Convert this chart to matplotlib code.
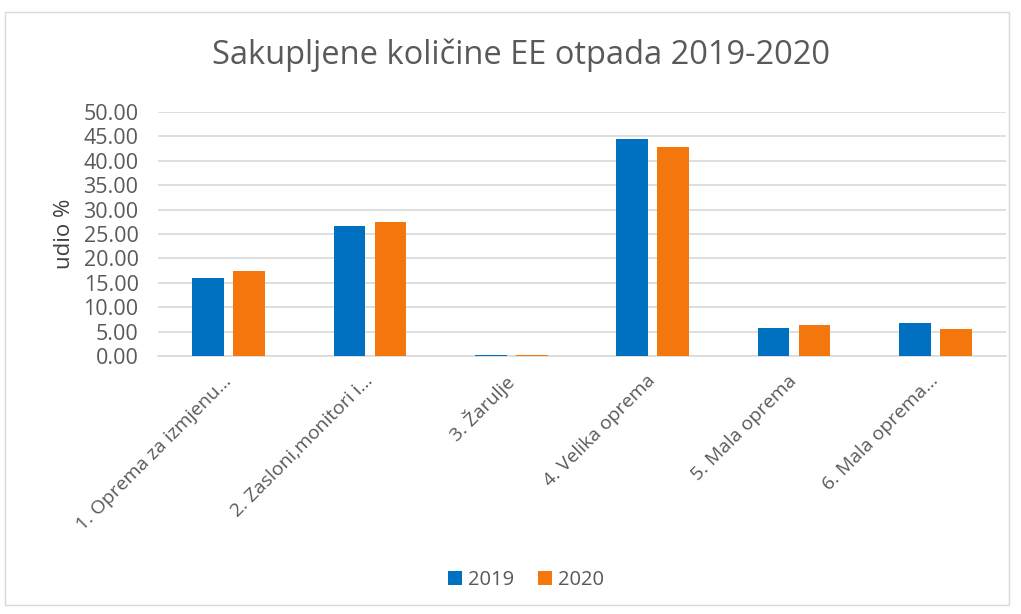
import matplotlib
matplotlib.use("Agg")
import matplotlib.pyplot as plt
import matplotlib.transforms as mtransforms
import numpy as np
from matplotlib.patches import Rectangle

categories = ["1. Oprema za izmjenu…", "2. Zasloni,monitori i…", "3. Žarulje",
              "4. Velika oprema", "5. Mala oprema", "6. Mala oprema…"]
series_2019 = [15.9, 26.6, 0.3, 44.5, 5.75, 6.8]
series_2020 = [17.5, 27.4, 0.3, 42.8, 6.4, 5.55]
series_names = ["2019", "2020"]
yticks = [0, 5, 10, 15, 20, 25, 30, 35, 40, 45, 50]

plt.rcParams['font.family'] = ['Open Sans', 'DejaVu Sans']
W, H = 1021, 614
fig = plt.figure(figsize=(W/100, H/100), dpi=100)
fig.patches.append(Rectangle((5/W, 1-605/H), 1004/W, 593/H, transform=fig.transFigure,
                             fill=False, edgecolor='#d9d9d9', linewidth=1))

ax = fig.add_axes([158/W, 1-356/H, 848/W, 244/H])
x = np.arange(len(categories))
bw = 0.226
gap = 0.064
off = (bw + gap) / 2
ax.bar(x - off, series_2019, bw, color='#0070c0', label=series_names[0], zorder=3)
ax.bar(x + off, series_2020, bw, color='#f4770e', label=series_names[1], zorder=3)
ax.set_xlim(-0.5, len(categories) - 0.5)
ax.set_ylim(0, 50)
ax.set_yticks(yticks)
ax.set_yticklabels([f"{v:.2f}" for v in yticks], fontsize=15.5, color='#595959')
ax.grid(axis='y', color='#d9d9d9', linewidth=1.2, zorder=0)
ax.set_xticks(x)
ax.set_xticklabels(categories, rotation=45, ha='right', va='center', rotation_mode='anchor',
                   fontsize=13.9, color='#595959')
shift = mtransforms.ScaledTranslation(10/72, 2/72, fig.dpi_scale_trans)
for lbl in ax.get_xticklabels():
    lbl.set_transform(lbl.get_transform() + shift)
ax.tick_params(axis='y', length=0, pad=14)
ax.tick_params(axis='x', length=0, pad=16)
for s in ['top', 'right', 'left']:
    ax.spines[s].set_visible(False)
ax.spines['bottom'].set_color('#d9d9d9')
ax.spines['bottom'].set_linewidth(1.2)
ax.set_ylabel("udio %", fontsize=16, color='#404040', labelpad=6)
fig.text(521/W, 1-55/H, "Sakupljene količine EE otpada 2019-2020", ha='center', va='center',
         fontsize=23.5, color='#595959')
fig.legend(loc='center', bbox_to_anchor=(526/W, 1-580/H), ncol=2, frameon=False,
           fontsize=14.5, handlelength=0.7, handleheight=0.7, columnspacing=1.2,
           handletextpad=0.3, labelcolor='#595959')
fig.savefig("out.png", dpi=100)
